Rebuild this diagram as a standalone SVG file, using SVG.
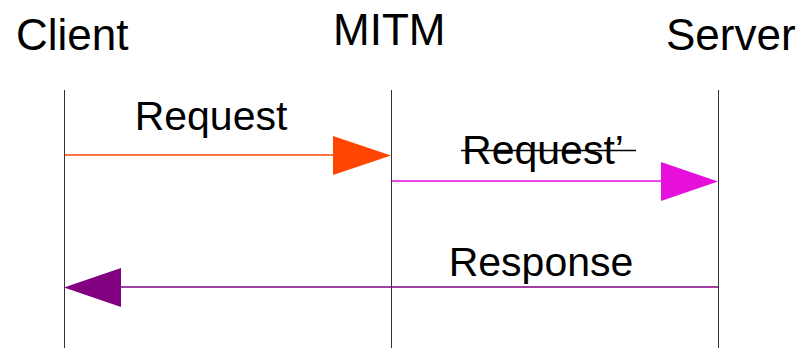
<svg xmlns="http://www.w3.org/2000/svg" width="801" height="348" viewBox="0 0 801 348">
  <style>
    .label { font-family: "Liberation Sans", Arial, sans-serif; fill: #000; }
    .actor { font-size: 44px; }
    .msg { font-size: 41px; text-anchor: middle; }
    .lifeline { stroke: #333; stroke-width: 1; fill: none; }
  </style>
  <rect width="801" height="348" fill="#fff"/>

  <g id="client">
    <text class="label actor" x="16" y="50">Client</text>
    <line class="lifeline" x1="64.5" y1="90" x2="64.5" y2="348"/>
  </g>
  <g id="mitm">
    <text class="label actor" x="333" y="45">MITM</text>
    <line class="lifeline" x1="391.5" y1="90" x2="391.5" y2="348"/>
  </g>
  <g id="server">
    <text class="label actor" x="666" y="50">Server</text>
    <line class="lifeline" x1="718.5" y1="90" x2="718.5" y2="348"/>
  </g>

  <g id="connectors">
    <!-- Client to MITM -->
    <line x1="65" y1="155" x2="336" y2="155" stroke="#ff4500" stroke-width="1.3"/>
    <polygon points="333,136 391,155.5 333,175" fill="#ff4500"/>
    <text class="label msg" x="211" y="130">Request</text>

    <!-- MITM to Server -->
    <line x1="392" y1="181" x2="664" y2="181" stroke="#e60fdc" stroke-width="1.3"/>
    <polygon points="661,162 718,181.5 661,201" fill="#e60fdc"/>
    <text class="label msg" x="543" y="164">Request’</text>
    <line x1="461" y1="150.5" x2="636" y2="150.5" stroke="#000" stroke-width="1.6"/>

    <!-- Server to Client -->
    <line x1="118" y1="287" x2="718" y2="287" stroke="#800080" stroke-width="1.3"/>
    <polygon points="121,268 64,287.5 121,307" fill="#800080"/>
    <text class="label msg" x="541" y="276">Response</text>
  </g>
</svg>
